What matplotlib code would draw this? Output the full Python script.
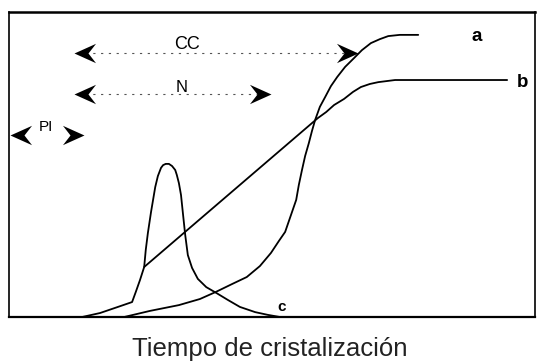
import matplotlib
matplotlib.use("Agg")
import matplotlib.pyplot as plt
from matplotlib.path import Path

plt.rcParams['font.family'] = ['Liberation Sans', 'DejaVu Sans']

# curva a: cristalizacion acumulada
a_x = [21.9, 26.8, 32.3, 36.3, 39.3, 42.4, 45.2, 47.7, 49.8, 51.3, 52.5, 53.6, 54.6, 55.1, 55.7,
       56.3, 57.0, 57.6, 58.2, 59.1, 60.1, 61.2, 62.4, 63.9, 65.6, 67.1, 68.8, 70.5, 72.1, 74.3, 77.8]
a_y = [0.0, 2.0, 3.9, 5.9, 8.2, 10.8, 13.1, 16.7, 21.0, 24.9, 27.9, 33.4, 38.4, 43.3, 48.2,
       52.8, 57.0, 61.0, 64.6, 68.9, 72.1, 75.7, 78.7, 82.0, 84.9, 87.5, 89.8, 91.1, 92.1, 92.5, 92.5]

# curva b
b_x = [25.7, 58.7, 60.3, 61.8, 63.7, 65.4, 66.9, 68.6, 70.2, 73.4, 94.7]
b_y = [16.4, 65.2, 67.2, 69.5, 71.5, 73.8, 75.4, 76.4, 77.0, 77.7, 77.7]

# curva c: pico de nucleacion
c_x = [13.9, 17.3, 20.7, 23.4, 24.1, 24.9, 25.7, 26.0, 26.4, 27.0, 27.8, 28.3, 28.9, 29.3, 29.8,
       30.4, 31.0, 31.6, 31.9, 32.3, 32.7, 33.1, 33.5, 34.0, 34.8, 35.9, 37.5, 39.4, 41.6, 43.9,
       46.8, 49.2, 51.5]
c_y = [0.0, 1.3, 3.3, 4.9, 8.2, 12.1, 16.4, 22.0, 27.5, 34.4, 42.6, 46.2, 48.9, 49.8, 50.2,
       50.2, 49.5, 48.2, 46.6, 43.9, 40.0, 33.4, 26.9, 20.3, 16.1, 12.5, 9.8, 7.9, 5.6, 3.3,
       1.6, 0.7, 0.0]

curve_labels = ['a', 'b', 'c']
curve_label_x = [89.0, 97.7, 51.8]
curve_label_y = [92.1, 77.0, 3.3]
curve_label_size = [13.5, 13.5, 11]

# intervalos (inicio, fin, altura, etiqueta, posicion etiqueta, tamano, punteado)
spans = [
    (12.4, 66.3, 86.6, 'CC', 33.9, 89.5, 13, True),
    (12.4, 49.9, 73.1, 'N', 32.8, 75.4, 12, True),
    (0.2, 14.3, 59.7, 'PI', 7.0, 62.3, 11, False),
]

fig = plt.figure(figsize=(5.39, 3.61), dpi=100)
ax = fig.add_axes([9 / 539, (361 - 317) / 361, 526 / 539, 305 / 361])
ax.set_xlim(0, 100)
ax.set_ylim(0, 100)
ax.set_xticks([])
ax.set_yticks([])
for s in ax.spines.values():
    s.set_linewidth(1.2)
ax.spines['top'].set_linewidth(1.8)
ax.spines['bottom'].set_linewidth(1.6)

lw = 1.3
for xs, ys in [(a_x, a_y), (b_x, b_y), (c_x, c_y)]:
    ax.plot(xs, ys, color='black', lw=lw, solid_capstyle='round',
            solid_joinstyle='round', clip_on=False)

for lab, x, y, fs in zip(curve_labels, curve_label_x, curve_label_y, curve_label_size):
    ax.text(x, y, lab, fontsize=fs, fontweight='bold', ha='center', va='center')

# cabezas de flecha
head_r = Path([(0, 0), (-2, 0.9), (-1.3, 0), (-2, -0.9), (0, 0)],
              [Path.MOVETO, Path.LINETO, Path.LINETO, Path.LINETO, Path.CLOSEPOLY])
head_l = Path([(0, 0), (2, 0.9), (1.3, 0), (2, -0.9), (0, 0)],
              [Path.MOVETO, Path.LINETO, Path.LINETO, Path.LINETO, Path.CLOSEPOLY])

for x0, x1, y, lab, tx, ty, fs, dotted in spans:
    if dotted:
        ax.plot([x0 + 2, x1 - 2], [y, y], color='#555555', lw=0.8,
                linestyle=(0, (2, 5)))
    ax.plot([x0], [y], marker=head_l, markersize=31, color='black', mew=0, clip_on=False)
    ax.plot([x1], [y], marker=head_r, markersize=31, color='black', mew=0, clip_on=False)
    ax.text(tx, ty, lab, fontsize=fs, ha='center', va='center')

fig.text(270 / 539, 1 - 349 / 361, 'Tiempo de cristalización', fontsize=18.5,
         ha='center', va='center', color='#222222')

fig.savefig('out.png', dpi=100)
